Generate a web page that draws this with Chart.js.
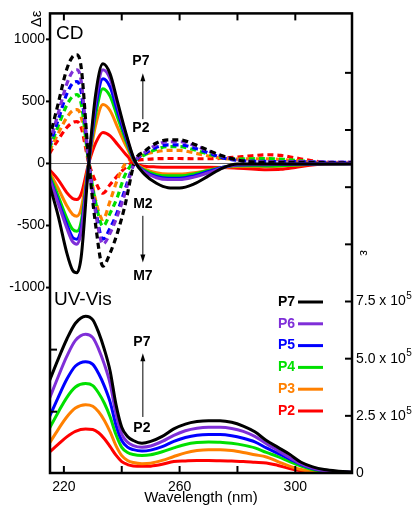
<!DOCTYPE html>
<html>
<head>
<meta charset="utf-8">
<script src="https://cdn.jsdelivr.net/npm/chart.js@4"></script>
<style>
body { margin: 0; background: #fff; }
#wrap { width: 415px; height: 513px; }
</style>
</head>
<body>
<div id="wrap"><canvas id="chart" width="415" height="513"></canvas></div>
<script>
// CD spectra (delta epsilon), P = solid, M = dashed
const cdWavelength = [215, 218, 221, 223, 224.5, 226, 228.5, 231, 233.5, 236, 238.5, 241, 244.5, 248, 252, 256, 260, 265, 270, 275, 280, 285, 290, 295, 300, 305, 310, 320];
const cdP7 = [-170, -420, -720, -860, -880, -750, -20, 560, 803, 720, 500, 280, 20, -90, -160, -195, -198, -165, -100, -35, -5, -5, -5, -5, -5, -5, -5, -5];
const cdP6 = [-120, -320, -520, -630, -650, -550, -15, 500, 755, 680, 470, 265, 15, -70, -115, -130, -130, -110, -75, -35, -10, -8, -8, -6, -5, -4, -3, -2];
const cdP5 = [-110, -300, -490, -595, -610, -520, -15, 450, 683, 615, 425, 240, 15, -65, -105, -120, -120, -100, -65, -30, -12, -10, -10, -8, -6, -4, -3, -2];
const cdP4 = [-90, -260, -440, -530, -546, -465, -10, 395, 602, 540, 375, 210, 10, -55, -90, -100, -100, -85, -55, -30, -18, -18, -20, -18, -12, -6, -3, -1];
const cdP3 = [-70, -200, -340, -410, -425, -360, -10, 310, 474, 425, 295, 165, 8, -45, -75, -85, -85, -75, -55, -35, -25, -25, -25, -22, -15, -8, -3, -1];
const cdP2 = [-50, -130, -235, -282, -290, -245, -5, 165, 249, 222, 155, 85, 0, -22, -28, -30, -30, -30, -30, -32, -38, -45, -50, -47, -32, -15, -5, 0];
const cdM7 = [200, 480, 760, 860, 875, 770, 40, -500, -827, -720, -560, -350, 15, 100, 165, 190, 190, 155, 105, 60, 28, 12, 8, 8, 8, 8, 6, 5];
const cdM6 = [160, 400, 640, 740, 755, 660, 30, -400, -650, -560, -420, -250, 12, 90, 150, 175, 175, 145, 100, 55, 28, 16, 14, 14, 14, 14, 12, 10];
const cdM5 = [140, 350, 560, 645, 660, 575, 25, -375, -610, -520, -390, -220, 10, 80, 130, 150, 150, 125, 85, 45, 25, 18, 16, 15, 14, 12, 10, 8];
const cdM4 = [120, 300, 470, 540, 554, 480, 20, -315, -506, -400, -270, -100, 20, 70, 115, 135, 135, 110, 75, 45, 35, 38, 40, 35, 25, 15, 8, 4];
const cdM3 = [100, 240, 370, 425, 434, 375, 15, -300, -450, -300, -130, -10, 45, 75, 95, 105, 105, 85, 60, 40, 35, 38, 38, 32, 22, 12, 6, 3];
const cdM2 = [80, 190, 290, 330, 337, 290, 15, -150, -240, -170, -100, -40, 20, 32, 38, 40, 40, 38, 38, 42, 52, 62, 70, 65, 45, 25, 10, 2];

// UV-Vis spectra (epsilon / 10^5)
const uvWavelength = [215, 218, 221, 224, 227.5, 230, 232, 234, 236, 238, 240, 242, 244, 247, 250, 254, 258, 262, 266, 270, 274, 278, 282, 286, 290, 294, 298, 302, 306, 310, 315, 320];
const uvP7 = [4.03, 4.97, 5.85, 6.55, 6.86, 6.7, 6.15, 5.4, 4.45, 3.0, 2.0, 1.6, 1.42, 1.3, 1.38, 1.6, 1.93, 2.14, 2.25, 2.29, 2.29, 2.22, 2.05, 1.8, 1.42, 1.12, 0.82, 0.47, 0.27, 0.15, 0.08, 0.04];
const uvP6 = [3.25, 4.2, 5.1, 5.8, 6.07, 5.92, 5.42, 4.75, 3.9, 2.6, 1.7, 1.35, 1.2, 1.13, 1.18, 1.38, 1.65, 1.85, 1.96, 2.0, 2.0, 1.95, 1.82, 1.6, 1.28, 0.98, 0.68, 0.4, 0.22, 0.1, 0.05, 0.03];
const uvP5 = [2.45, 3.3, 4.1, 4.68, 4.87, 4.75, 4.35, 3.8, 3.1, 2.1, 1.42, 1.13, 1.02, 0.96, 1.0, 1.15, 1.38, 1.55, 1.65, 1.68, 1.68, 1.63, 1.52, 1.36, 1.1, 0.86, 0.62, 0.37, 0.2, 0.1, 0.05, 0.02];
const uvP4 = [1.95, 2.65, 3.3, 3.76, 3.91, 3.82, 3.5, 3.05, 2.45, 1.68, 1.12, 0.9, 0.81, 0.77, 0.8, 0.93, 1.1, 1.25, 1.33, 1.36, 1.35, 1.3, 1.22, 1.1, 0.9, 0.72, 0.5, 0.3, 0.15, 0.07, 0.03, 0.01];
const uvP3 = [1.3, 1.9, 2.45, 2.84, 2.99, 2.92, 2.68, 2.3, 1.8, 1.2, 0.76, 0.55, 0.46, 0.41, 0.43, 0.55, 0.72, 0.88, 0.98, 1.02, 1.02, 0.98, 0.9, 0.8, 0.7, 0.5, 0.3, 0.15, 0.06, 0.03, 0.01, 0.0];
const uvP2 = [0.91, 1.25, 1.58, 1.82, 1.92, 1.9, 1.76, 1.5, 1.15, 0.78, 0.5, 0.37, 0.31, 0.29, 0.3, 0.38, 0.5, 0.53, 0.55, 0.55, 0.54, 0.52, 0.5, 0.47, 0.44, 0.33, 0.2, 0.1, 0.05, 0.02, 0.01, 0.0];

const seriesNames = ["P7", "P6", "P5", "P4", "P3", "P2"];
const mirrorNames = ["M7", "M6", "M5", "M4", "M3", "M2"];
const seriesColors = ["#000000", "#7f2fd8", "#0000ff", "#00e000", "#ff8000", "#ff0000"];

// axis ticks
const xTickLabels = [220, 260, 300];
const xTickMarks = [220, 240, 260, 280, 300];
const cdTickLabels = [-1000, -500, 0, 500, 1000];
const cdTickMarks = [-2000, -1500, -1000, -500, 0, 500, 1000];
const uvTickLabels = [0, 2.5, 5.0, 7.5];
const uvTickMarks = [2.5, 5.0, 7.5, 10, 12.5, 15, 17.5];

const cdP = [cdP7, cdP6, cdP5, cdP4, cdP3, cdP2];
const cdM = [cdM7, cdM6, cdM5, cdM4, cdM3, cdM2];
const uvP = [uvP7, uvP6, uvP5, uvP4, uvP3, uvP2];

function toPoints(xs, ys) {
    return xs.map((x, i) => ({x: x, y: ys[i]}));
}

const datasets = [];
for (let i = 0; i < seriesNames.length; i++) {
    datasets.push({
        label: "CD " + seriesNames[i],
        data: toPoints(cdWavelength, cdP[i]),
        yAxisID: "y",
        borderColor: seriesColors[i],
        borderWidth: 3,
        order: i
    });
}
for (let i = 0; i < mirrorNames.length; i++) {
    datasets.push({
        label: "CD " + mirrorNames[i],
        data: toPoints(cdWavelength, cdM[i]),
        yAxisID: "y",
        borderColor: seriesColors[i],
        borderWidth: 3.2,
        borderDash: [6, 4],
        order: 6 + i
    });
}
for (let i = 0; i < seriesNames.length; i++) {
    datasets.push({
        label: "UV " + seriesNames[i],
        data: toPoints(uvWavelength, uvP[i]),
        yAxisID: "y2",
        borderColor: seriesColors[i],
        borderWidth: 3,
        order: i
    });
}

const FONT = "'Liberation Sans', Arial, sans-serif";

function line(ctx, x1, y1, x2, y2) {
    ctx.beginPath();
    ctx.moveTo(x1, y1);
    ctx.lineTo(x2, y2);
    ctx.stroke();
}

function arrow(ctx, x, y1, y2) {
    // from y1 to y2, head at y2
    const dir = y2 < y1 ? 1 : -1;
    ctx.lineWidth = 1;
    line(ctx, x, y1, x, y2 + dir * 5);
    ctx.beginPath();
    ctx.moveTo(x, y2);
    ctx.lineTo(x - 2.5, y2 + dir * 8);
    ctx.lineTo(x + 2.5, y2 + dir * 8);
    ctx.closePath();
    ctx.fill();
}

const decorations = {
    id: "decorations",
    afterDraw(chart) {
        const ctx = chart.ctx;
        const a = chart.chartArea;
        const sx = chart.scales.x, sy = chart.scales.y, sy2 = chart.scales.y2;
        ctx.save();
        ctx.strokeStyle = "#000";
        ctx.fillStyle = "#000";
        // frame
        ctx.lineWidth = 2.5;
        ctx.strokeRect(a.left, a.top, a.right - a.left, a.bottom - a.top);
        // tick marks
        ctx.lineWidth = 2;
        xTickMarks.forEach(v => {
            const px = sx.getPixelForValue(v);
            line(ctx, px, a.bottom, px, a.bottom - 7);
            line(ctx, px, a.top, px, a.top + 7);
        });
        cdTickMarks.forEach(v => {
            const py = sy.getPixelForValue(v);
            if (cdTickLabels.includes(v)) line(ctx, a.left - 4, py, a.left, py);
            else line(ctx, a.left, py, a.left + 7, py);
        });
        uvTickMarks.forEach(v => {
            const py = sy2.getPixelForValue(v);
            line(ctx, a.right - 7, py, a.right, py);
        });

        // right axis labels with superscript exponent
        ctx.textBaseline = "middle";
        ctx.textAlign = "left";
        uvTickLabels.forEach(v => {
            const py = sy2.getPixelForValue(v);
            ctx.font = "14px " + FONT;
            if (v === 0) {
                ctx.fillText("0", a.right + 4, py);
            } else {
                const base = v.toFixed(1) + " x 10";
                ctx.fillText(base, a.right + 4, py);
                const w = ctx.measureText(base).width;
                ctx.font = "10px " + FONT;
                ctx.fillText("5", a.right + 4.5 + w, py - 5);
            }
        });

        // axis names
        ctx.font = "15px " + FONT;
        ctx.textAlign = "center";
        ctx.save();
        ctx.translate(37, 19);
        ctx.rotate(-Math.PI / 2);
        ctx.fillText("\u0394\u03b5", 0, 0);
        ctx.restore();
        ctx.font = "13px " + FONT;
        ctx.save();
        ctx.translate(364, 253);
        ctx.rotate(Math.PI / 2);
        ctx.fillText("\u03b5", 0, 0);
        ctx.restore();

        // panel titles
        ctx.font = "19px " + FONT;
        ctx.textAlign = "left";
        ctx.fillText("CD", a.left + 6, 34);
        ctx.fillText("UV-Vis", a.left + 4, 300);

        // P/M arrows
        const ax = sx.getPixelForValue(247.3);
        ctx.font = "bold 14px " + FONT;
        ctx.textAlign = "center";
        ctx.fillText("P7", ax - 2, sy.getPixelForValue(823));
        ctx.fillText("P2", ax - 2, sy.getPixelForValue(285));
        arrow(ctx, ax, sy.getPixelForValue(357), sy.getPixelForValue(727));
        ctx.fillText("M2", ax, sy.getPixelForValue(-325));
        ctx.fillText("M7", ax, sy.getPixelForValue(-904));
        arrow(ctx, ax, sy.getPixelForValue(-422), sy.getPixelForValue(-799));
        ctx.fillText("P7", ax - 1, sy2.getPixelForValue(5.74));
        ctx.fillText("P2", ax - 1, sy2.getPixelForValue(1.94));
        arrow(ctx, ax, sy2.getPixelForValue(2.45), sy2.getPixelForValue(5.24));

        // legend
        ctx.textAlign = "right";
        ctx.lineWidth = 3;
        seriesNames.forEach((name, i) => {
            const ly = 302 + i * 21.8;
            ctx.fillStyle = seriesColors[i];
            ctx.strokeStyle = seriesColors[i];
            ctx.fillText(name, 295, ly);
            line(ctx, 298, ly, 323, ly);
        });
        ctx.restore();
    }
};

new Chart(document.getElementById("chart"), {
    type: "line",
    data: { datasets: datasets },
    options: {
        responsive: false,
        animation: false,
        layout: { padding: { top: 12, left: 0, right: 0, bottom: 0 } },
        elements: {
            point: { radius: 0 },
            line: { cubicInterpolationMode: "monotone", fill: false }
        },
        plugins: { legend: { display: false }, tooltip: { enabled: false } },
        scales: {
            x: {
                type: "linear",
                position: "bottom",
                min: 215.2,
                max: 319.6,
                afterBuildTicks: s => { s.ticks = xTickLabels.map(v => ({value: v})); },
                afterFit: s => { s.height = 40; },
                border: { display: false },
                grid: { display: false, drawTicks: false },
                ticks: { color: "#000", font: { size: 14, family: FONT }, padding: 6, maxRotation: 0, autoSkip: false, callback: v => String(v) },
                title: { display: true, text: "Wavelength (nm)", color: "#000", font: { size: 15, family: FONT }, padding: { top: 0, bottom: 6 } }
            },
            y: {
                type: "linear",
                position: "left",
                min: -2494,
                max: 1209,
                afterBuildTicks: s => { s.ticks = cdTickLabels.map(v => ({value: v})); },
                afterFit: s => { s.width = 50; },
                border: { display: false },
                grid: {
                    drawTicks: false,
                    lineWidth: 1,
                    color: c => (c.tick && c.tick.value === 0) ? "#666" : "rgba(0,0,0,0)"
                },
                ticks: { color: "#000", font: { size: 14, family: FONT }, padding: 5, autoSkip: false, callback: v => String(v) }
            },
            y2: {
                type: "linear",
                position: "right",
                min: 0,
                max: 20.1,
                afterBuildTicks: s => { s.ticks = uvTickLabels.map(v => ({value: v})); },
                afterFit: s => { s.width = 63; },
                border: { display: false },
                grid: { display: false, drawTicks: false },
                ticks: { display: false }
            }
        }
    },
    plugins: [decorations]
});
</script>
</body>
</html>
